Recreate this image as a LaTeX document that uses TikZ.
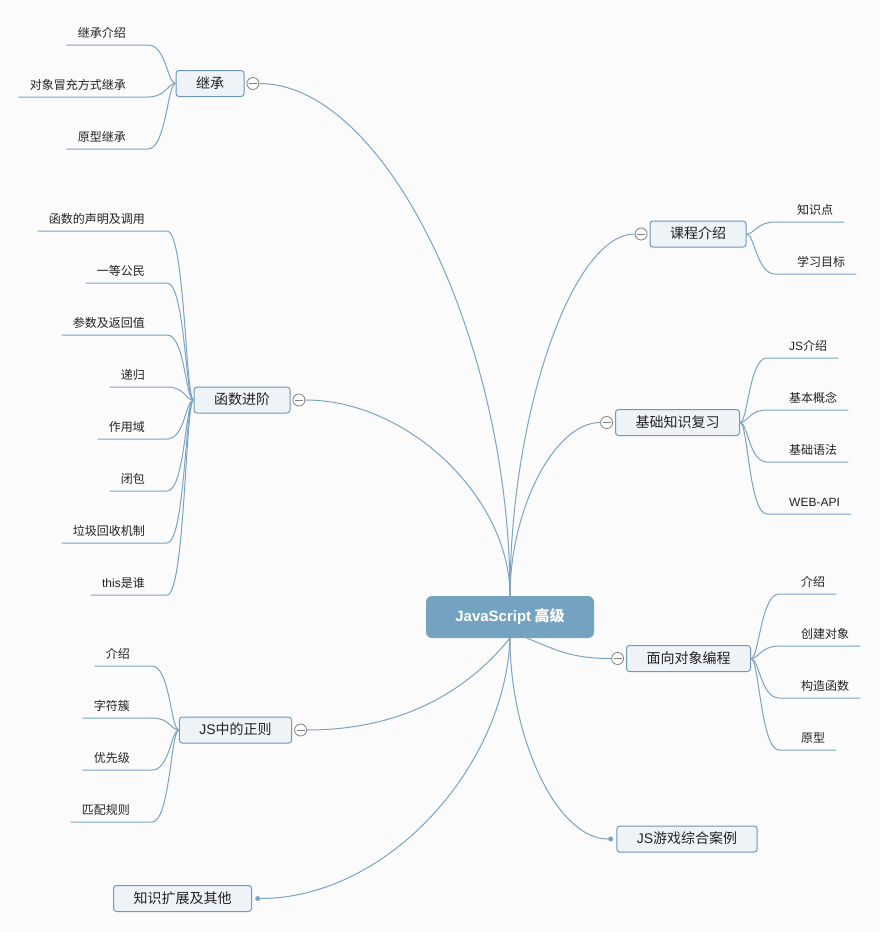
\documentclass[tikz,border=0pt]{standalone}
\usepackage{fontspec}
\usepackage{tikz}
\usetikzlibrary{positioning,calc}
\setmainfont{Liberation Sans}
\newfontfamily\cjk{Noto Sans CJK SC}
\newcommand{\latn}[1]{{\rmfamily #1}}
\definecolor{xmindbg}{RGB}{251,251,251}
\definecolor{xmindline}{RGB}{122,163,198}
\definecolor{xmindedge}{RGB}{110,152,190}
\definecolor{xmindfill}{RGB}{238,243,247}
\definecolor{xmindroot}{RGB}{116,163,194}
\definecolor{xmindgray}{RGB}{128,128,128}
\definecolor{xmindtext}{RGB}{34,34,34}

\begin{document}
\begin{tikzpicture}[x=1pt,y=-1pt,
  root/.style={fill=xmindroot,rounded corners=6pt,minimum width=168pt,minimum height=42pt,text=white,
    font=\cjk\bfseries\fontsize{15}{18}\selectfont},
  topic/.style={draw=xmindedge,fill=xmindfill,line width=1pt,rounded corners=3pt,minimum height=26pt,
    inner xsep=20pt,text height=11pt,text depth=1.5pt,text=xmindtext,font=\cjk\fontsize{14}{16}\selectfont},
  leaf/.style={inner xsep=11pt,inner ysep=5pt,text height=9pt,text depth=2.5pt,text=xmindtext,
    font=\cjk\fontsize{12}{14}\selectfont},
  fold/.style={circle,draw=xmindgray,fill=white,minimum size=12pt,inner sep=0pt,line width=0.8pt,
    path picture={\draw[xmindgray,line width=0.8pt] ([xshift=-4pt]path picture bounding box.center)--([xshift=4pt]path picture bounding box.center);}},
  tip/.style={circle,fill=xmindline,minimum size=5pt,inner sep=0pt},
  link/.style={draw=xmindline,line width=1pt}]
  \fill[xmindbg] (0,0) rectangle (879,932);
  \node[root] (js) at (510,617) {\latn{JavaScript} 高级};
  \node[topic] (jicheng) at (210,83.5) {继承};
  \node[topic] (kecheng) at (698,234) {课程介绍};
  \node[topic] (jichu) at (677.5,422.5) {基础知识复习};
  \node[topic] (hanshu) at (242,400) {函数进阶};
  \node[topic] (mianxiang) at (688.5,658.5) {面向对象编程};
  \node[topic] (zhengze) at (235.5,730) {\latn{JS}中的正则};
  \node[topic] (youxi) at (687,839) {\latn{JS}游戏综合案例};
  \node[topic] (kuozhan) at (182.5,898.5) {知识扩展及其他};
  \node[fold,right=2pt of jicheng] (jicheng-f) {};
  \node[fold,left=2pt of kecheng] (kecheng-f) {};
  \node[fold,left=2pt of jichu] (jichu-f) {};
  \node[fold,right=2pt of hanshu] (hanshu-f) {};
  \node[fold,left=2pt of mianxiang] (mianxiang-f) {};
  \node[fold,right=2pt of zhengze] (zhengze-f) {};
  \node[tip,left=3pt of youxi] (youxi-d) {};
  \node[tip,right=3pt of kuozhan] (kuozhan-d) {};
  % root to topics
  \draw[link] (js.north) .. controls +(0,-256) and +(126,0) .. (jicheng-f.east);
  \draw[link] (js.north) .. controls +(0,-180) and +(-63,0) .. (kecheng-f.west);
  \draw[link] (js.north) .. controls +(0,-86) and +(-46,0) .. (jichu-f.west);
  \draw[link] (js.north) .. controls +(0,-98) and +(103,0) .. (hanshu-f.east);
  \draw[link] ($(js.south)+(17,0)$) .. controls +(30,12) and +(-40,0) .. (mianxiang-f.west);
  \draw[link] (js.south) .. controls +(-25,30) and +(120,0) .. (zhengze-f.east);
  \draw[link] (js.south) .. controls +(0,100) and +(-51,0) .. (youxi-d.west);
  \draw[link] (js.south) .. controls +(-5,130) and +(126,0) .. (kuozhan-d.east);
  % left leaves
  \foreach \t [count=\i] in {继承介绍,对象冒充方式继承,原型继承}{
    \node[leaf,anchor=south east] (jc\i) at (137,{52*\i-7}) {\t};
    \draw[link] (jicheng.west) .. controls +(-8,0) and +(18,0) .. ([xshift=11pt]jc\i.south east) -- (jc\i.south west);}
  \foreach \t [count=\i] in {函数的声明及调用,一等公民,参数及返回值,递归,作用域,闭包,垃圾回收机制,{\latn{this}是谁}}{
    \node[leaf,anchor=south east] (hs\i) at (156,{179+52*\i}) {\t};
    \draw[link] (hanshu.west) .. controls +(-8,0) and +(18,0) .. ([xshift=11pt]hs\i.south east) -- (hs\i.south west);}
  \foreach \t [count=\i] in {介绍,字符簇,优先级,匹配规则}{
    \node[leaf,anchor=south east] (zz\i) at (141,{614+52*\i}) {\t};
    \draw[link] (zhengze.west) .. controls +(-8,0) and +(18,0) .. ([xshift=11pt]zz\i.south east) -- (zz\i.south west);}
  % right leaves
  \foreach \t [count=\i] in {知识点,学习目标}{
    \node[leaf,anchor=south west] (kc\i) at (786,{170+52*\i}) {\t};
    \draw[link] (kecheng.east) .. controls +(8,0) and +(-18,0) .. ([xshift=-11pt]kc\i.south west) -- (kc\i.south east);}
  \foreach \t [count=\i] in {{\latn{JS}介绍},基本概念,基础语法,{\latn{WEB-API}}}{
    \node[leaf,anchor=south west] (jc\i) at (778,{306+52*\i}) {\t};
    \draw[link] (jichu.east) .. controls +(8,0) and +(-18,0) .. ([xshift=-11pt]jc\i.south west) -- (jc\i.south east);}
  \foreach \t [count=\i] in {介绍,创建对象,构造函数,原型}{
    \node[leaf,anchor=south west] (mx\i) at (790,{542+52*\i}) {\t};
    \draw[link] (mianxiang.east) .. controls +(8,0) and +(-18,0) .. ([xshift=-11pt]mx\i.south west) -- (mx\i.south east);}
\end{tikzpicture}
\end{document}
